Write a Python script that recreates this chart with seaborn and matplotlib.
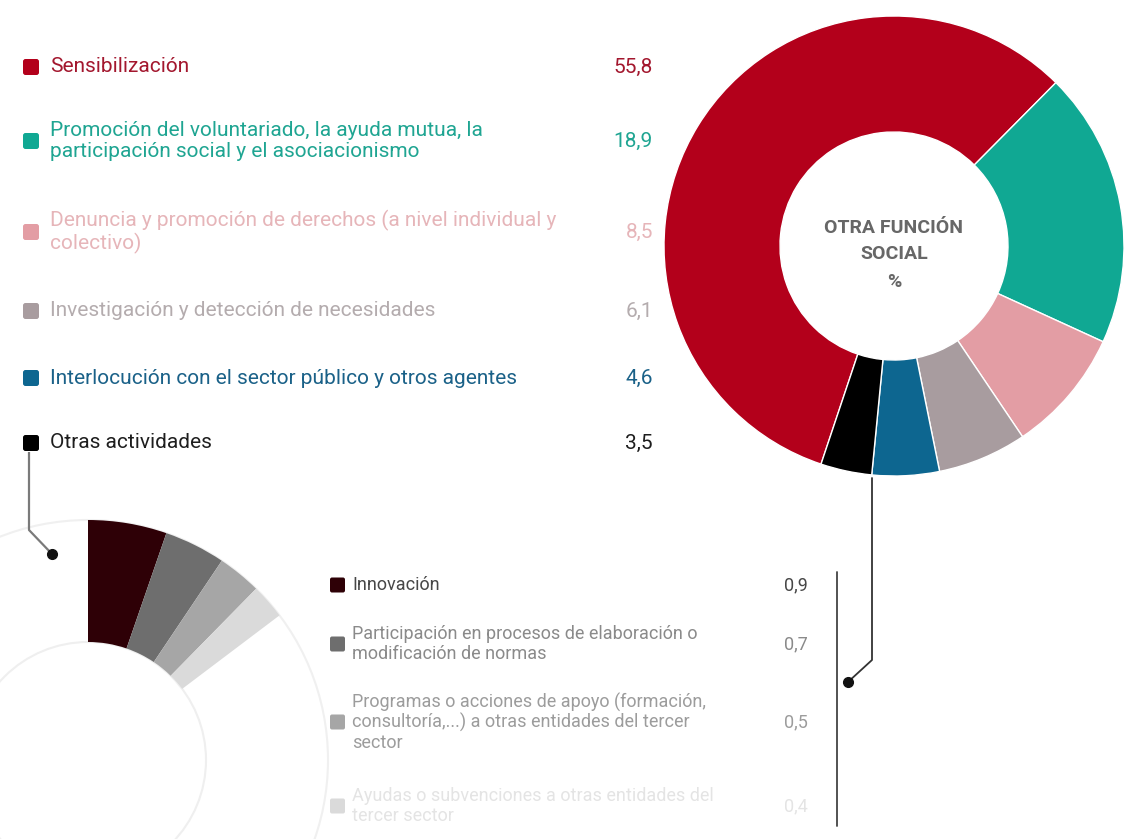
import matplotlib
matplotlib.use("Agg")
import matplotlib.pyplot as plt
import seaborn as sns
from matplotlib.patches import FancyBboxPatch, Circle

# ---------------- data ----------------
main_labels = [
    "Sensibilización",
    "Promoción del voluntariado, la ayuda mutua, la\nparticipación social y el asociacionismo",
    "Denuncia y promoción de derechos (a nivel individual y\ncolectivo)",
    "Investigación y detección de necesidades",
    "Interlocución con el sector público y otros agentes",
    "Otras actividades",
]
main_values = [55.8, 18.9, 8.5, 6.1, 4.6, 3.5]
main_colors = ["#b3001b", "#10a893", "#e39da4", "#a89c9f", "#0d6690", "#000000"]
main_text_colors = ["#a3172e", "#1fa592", "#e6b5b9", "#b4acae", "#1a6188", "#1e1e1e"]

sub_labels = [
    "Innovación",
    "Participación en procesos de elaboración o\nmodificación de normas",
    "Programas o acciones de apoyo (formación,\nconsultoría,...) a otras entidades del tercer\nsector",
    "Ayudas o subvenciones a otras entidades del\ntercer sector",
]
sub_values = [0.9, 0.7, 0.5, 0.4]
sub_colors = ["#2e0006", "#6e6e6e", "#a6a6a6", "#dadada"]
sub_text_colors = ["#474747", "#8a8a8a", "#9c9c9c", "#e4e4e4"]
sub_scale_total = 17.0  # full circle of the sub-ring

center_title = ["OTRA FUNCIÓN", "SOCIAL", "%"]

# ---------------- setup ----------------
sns.set_theme(style="white")
plt.rcParams["font.family"] = ["Roboto", "DejaVu Sans"]

W, H = 1131, 839
fig = plt.figure(figsize=(W / 100, H / 100), dpi=100)
ax = fig.add_axes([0, 0, 1, 1])

def Y(y):
    return H - y

# ---------------- main donut ----------------
ax.pie(main_values, colors=main_colors, startangle=251.5, counterclock=False,
       center=(894, Y(246)), radius=230,
       wedgeprops=dict(width=116, edgecolor="white", linewidth=1.0))

for txt, yy in zip(center_title, [228, 254, 282]):
    ax.text(894, Y(yy), txt, ha="center", va="center", fontsize=14,
            fontweight="bold", color="#676767")

# ---------------- sub donut (partial) ----------------
sc = (88, Y(760))
ax.add_patch(Circle(sc, 240, facecolor="none", edgecolor="#f0f0f0", lw=1.5, zorder=0))
ax.add_patch(Circle(sc, 118, facecolor="none", edgecolor="#efefef", lw=1.5, zorder=0))
rest = sub_scale_total - sum(sub_values)
ax.pie(sub_values + [rest], colors=sub_colors + ["none"], startangle=90,
       counterclock=False, normalize=True, center=sc, radius=240,
       wedgeprops=dict(width=122, edgecolor="none", linewidth=0))

# ---------------- top legend ----------------
top_rows = [67, 141, 232, 311, 378, 443]
for lab, val, col, tcol, yy in zip(main_labels, main_values, main_colors,
                                    main_text_colors, top_rows):
    ax.add_patch(FancyBboxPatch((23, Y(yy) - 8), 16, 16,
                                boxstyle="round,pad=0,rounding_size=2.5",
                                facecolor=col, edgecolor="none"))
    ax.text(50, Y(yy), lab, ha="left", va="center", fontsize=15,
            color=tcol, linespacing=1.08)
    ax.text(653, Y(yy), f"{val:.1f}".replace(".", ","), ha="right",
            va="center", fontsize=15, color=tcol)

# ---------------- bottom legend ----------------
sub_rows = [585, 644, 722, 806]
for lab, val, col, tcol, yy in zip(sub_labels, sub_values, sub_colors,
                                    sub_text_colors, sub_rows):
    ax.add_patch(FancyBboxPatch((330, Y(yy) - 7.5), 15, 15,
                                boxstyle="round,pad=0,rounding_size=2",
                                facecolor=col, edgecolor="none"))
    ax.text(352, Y(yy), lab, ha="left", va="center", fontsize=13,
            color=tcol, linespacing=1.1)
    ax.text(784, Y(yy), f"{val:.1f}".replace(".", ","), ha="left",
            va="center", fontsize=13, color=tcol)

# ---------------- connectors ----------------
ax.plot([29, 29, 52], [Y(452), Y(530), Y(554)], color="#7a7a7a", lw=1.6,
        solid_capstyle="butt")
ax.plot([52], [Y(554)], "o", color="#111111", ms=7)
ax.plot([872, 872, 848], [Y(478), Y(660), Y(682)], color="#333333", lw=1.3)
ax.plot([848], [Y(682)], "o", color="#111111", ms=7)
ax.plot([837, 837], [Y(572), Y(826)], color="#444444", lw=1.3)

ax.set_xlim(0, W)
ax.set_ylim(0, H)
ax.set_aspect("auto")
ax.axis("off")
fig.savefig("out.png", dpi=100, facecolor="white")
